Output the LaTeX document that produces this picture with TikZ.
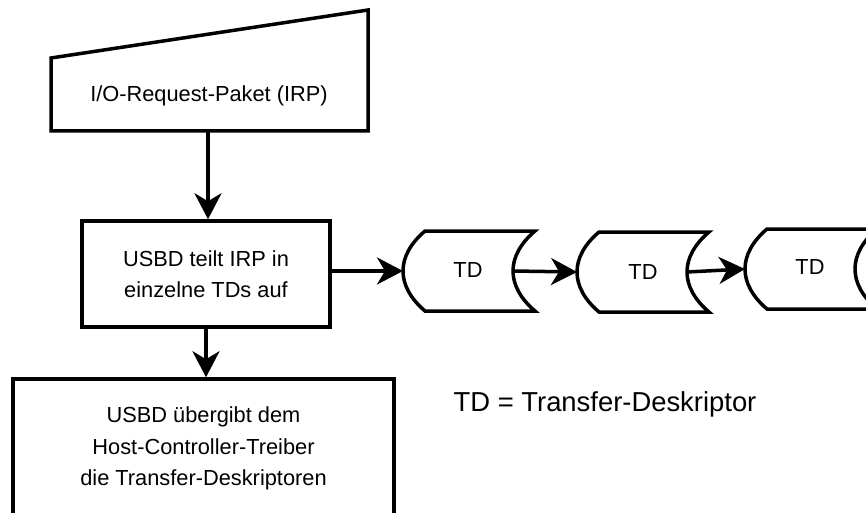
\documentclass[tikz,border=0pt]{standalone}
\usepackage{fontspec}
\setmainfont{Liberation Sans}
\usetikzlibrary{arrows.meta}

% transfer descriptor outline, given by its left tip
\newcommand{\tdshape}[2]{%
  \draw (#1+22,#2-40) -- (#1+132,#2-40)
    .. controls (#1+102.67,#2-15) and (#1+102.67,#2+15) .. (#1+132,#2+40)
    -- (#1+22,#2+40)
    .. controls (#1-7.33,#2+15) and (#1-7.33,#2-15) .. cycle;}

\begin{document}
\begin{tikzpicture}[x=1pt,y=-1pt,
  line width=3.5pt, line join=miter,
  txt/.style={font=\fontsize{21.8}{31.5}\selectfont, inner sep=0pt},
  box/.style={txt, draw, align=center},
  arr/.style={-{Stealth[length=26pt,width=27pt,inset=8pt]}, line width=3.5pt},
]
\clip (0,0) rectangle (866,513);

% manual input: the I/O request packet
\draw (51,58) -- (368,10) -- (368,131) -- (51,131) -- cycle;
\node[txt] (irp) at (209,96) {I/O-Request-Paket (IRP)};
\coordinate (irpout) at (208,131);

% processing steps
\node[box, minimum width=248pt, minimum height=106pt] (split) at (206,274)
  {USBD teilt IRP in\\einzelne TDs auf};
\node[box, minimum width=381pt, minimum height=139pt] (handover) at (203.5,448.5)
  {USBD übergibt dem\\Host-Controller-Treiber\\die Transfer-Deskriptoren};

% chain of transfer descriptors
\tdshape{403}{271}
\node[txt] (td1) at (468,269.5) {TD};
\coordinate (td1in) at (403,271);
\coordinate (td1out) at (513,271);

\tdshape{577}{272}
\node[txt] (td2) at (643,271.5) {TD};
\coordinate (td2in) at (577,272);
\coordinate (td2out) at (687,272);

\tdshape{745}{269}
\node[txt] (td3) at (810,266.5) {TD};
\coordinate (td3in) at (745,269);

% legend
\node[font=\fontsize{27.4}{32}\selectfont, inner sep=0pt] (legend) at (605,404.5)
  {TD = Transfer-Deskriptor};

% connectors
\draw[arr] (irpout) -- (irpout |- split.north);
\draw[arr] (split.south) -- (split.south |- handover.north);
\draw[arr] (split.east |- td1in) -- (td1in);
\draw[arr] (td1out) -- (td2in);
\draw[arr] (td2out) -- (td3in);
\end{tikzpicture}
\end{document}
